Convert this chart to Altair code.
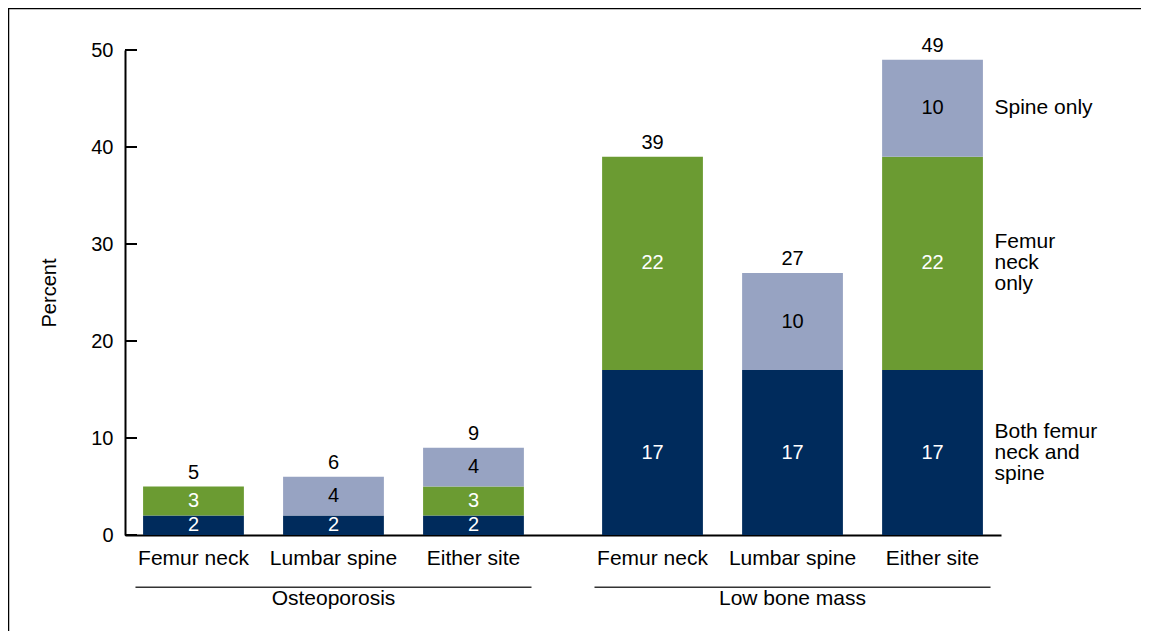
import altair as alt
import pandas as pd

groups = ["Osteoporosis"] * 3 + ["Low bone mass"] * 3
group_order = ["Osteoporosis", "Low bone mass"]
sites = ["Femur neck", "Lumbar spine", "Either site"] * 2
site_order = ["Femur neck", "Lumbar spine", "Either site"]
both = [2, 2, 2, 17, 17, 17]
femur_only = [3, 0, 3, 22, 0, 22]
spine_only = [0, 4, 4, 0, 10, 10]
totals = [5, 6, 9, 39, 27, 49]
segments = ["Both femur neck and spine", "Femur neck only", "Spine only"]
seg_colors = ["#002B5C", "#6B9B32", "#97A3C2"]
seg_text_colors = ["white", "white", "black"]
side_labels = ["Both femur\nneck and\nspine", "Femur\nneck\nonly", "Spine only"]
y_ticks = [0, 10, 20, 30, 40, 50]

rows = []
for i in range(len(groups)):
    base = 0
    for s, vals in enumerate([both, femur_only, spine_only]):
        v = vals[i]
        if v > 0:
            rows.append(dict(group=groups[i], site=sites[i], segment=segments[s],
                             value=v, y0=base, y1=base + v, mid=base + v / 2,
                             tcolor=seg_text_colors[s]))
            base += v
seg_df = pd.DataFrame(rows)
tot_df = pd.DataFrame(dict(group=groups, site=sites, total=totals))
grp_df = pd.DataFrame(dict(group=group_order))
side_df = seg_df[(seg_df.group == "Low bone mass") & (seg_df.site == "Either site")].copy()
side_df["label"] = [side_labels[segments.index(s)] for s in side_df.segment]
tick_df = pd.DataFrame(dict(tick=y_ticks))
one_df = pd.DataFrame(dict(a=[1]))

FONT = "Liberation Sans"
FS = 21
LH = 21

xenc = alt.X("group:N", sort=group_order,
             scale=alt.Scale(paddingInner=0.1704, paddingOuter=0.0394),
             axis=alt.Axis(labels=False, ticks=False, title=None, domainColor="black",
                           domainWidth=2))
xoff = alt.XOffset("site:N", sort=site_order,
                   scale=alt.Scale(paddingInner=0.28, paddingOuter=0))
yscale = alt.Scale(domain=[0, 50], nice=False)


def Y(field):
    return alt.Y(field, scale=yscale, title="Percent")


bars = alt.Chart(seg_df).mark_bar().encode(
    x=xenc, xOffset=xoff,
    y=alt.Y("y1:Q", scale=yscale, title="Percent",
            axis=alt.Axis(values=y_ticks, ticks=False, grid=False, domainColor="black",
                          domainWidth=2, labelPadding=12, labelFontSize=FS - 1,
                          labelColor="black", titleFontSize=FS - 1, titleFontWeight="normal",
                          titleColor="black", titleAngle=-90, titleX=-76, titleY=242.5,
                          titleBaseline="middle", titleAlign="center")),
    y2="y0:Q",
    color=alt.Color("segment:N", scale=alt.Scale(domain=segments, range=seg_colors), legend=None),
)

seg_text = alt.Chart(seg_df).mark_text(fontSize=FS - 1, baseline="middle", font=FONT).encode(
    x=xenc, xOffset=xoff, y=Y("mid:Q"),
    text="value:Q", color=alt.Color("tcolor:N", scale=None),
)

tot_text = alt.Chart(tot_df).mark_text(fontSize=FS - 1, baseline="alphabetic", dy=-8,
                                       font=FONT, color="black").encode(
    x=xenc, xOffset=xoff, y=Y("total:Q"), text="total:Q",
)

cat_text = alt.Chart(tot_df).mark_text(fontSize=FS, baseline="middle", font=FONT,
                                       color="black").encode(
    x=xenc, xOffset=xoff, y=alt.value(509), text="site:N",
)

underline = alt.Chart(grp_df).mark_bar(color="#333333", width=alt.RelativeBandSize(1.04)).encode(
    x=xenc, y=alt.value(536.5), y2=alt.value(538),
)

grp_text = alt.Chart(grp_df).mark_text(fontSize=FS, baseline="middle", font=FONT,
                                       color="black").encode(
    x=xenc, y=alt.value(549), text="group:N",
)

side_layers = []
for lab in side_labels:
    n = lab.count("\n") + 1
    side_layers.append(
        alt.Chart(side_df[side_df.label == lab]).mark_text(
            fontSize=FS, baseline="middle", align="left", dx=62,
            dy=-(n - 1) * LH / 2, font=FONT, color="black",
            lineBreak="\n", lineHeight=LH).encode(
            x=xenc, xOffset=xoff, y=Y("mid:Q"), text="label:N",
        )
    )

ticks = alt.Chart(tick_df).mark_rule(color="black", strokeWidth=2).encode(
    y=Y("tick:Q"), x=alt.value(0), x2=alt.value(12),
)

border_top = alt.Chart(one_df).mark_rule(color="black", strokeWidth=1.5).encode(
    x=alt.value(-117), x2=alt.value(1020), y=alt.value(-41.5),
)
border_left = alt.Chart(one_df).mark_rule(color="black", strokeWidth=1.5).encode(
    x=alt.value(-116.5), y=alt.value(-42), y2=alt.value(700),
)

chart = alt.layer(
    bars, seg_text, tot_text, cat_text, underline, grp_text, *side_layers, ticks,
    border_top, border_left,
).properties(
    width=876, height=485,
    autosize="none",
    padding={"left": 117, "top": 42, "right": 140, "bottom": 96},
).configure(
    font=FONT,
).configure_view(
    stroke=None,
).configure_axis(
    labelFont=FONT, titleFont=FONT,
)

chart.save("out.html", embed_options={"renderer": "svg", "actions": False})
